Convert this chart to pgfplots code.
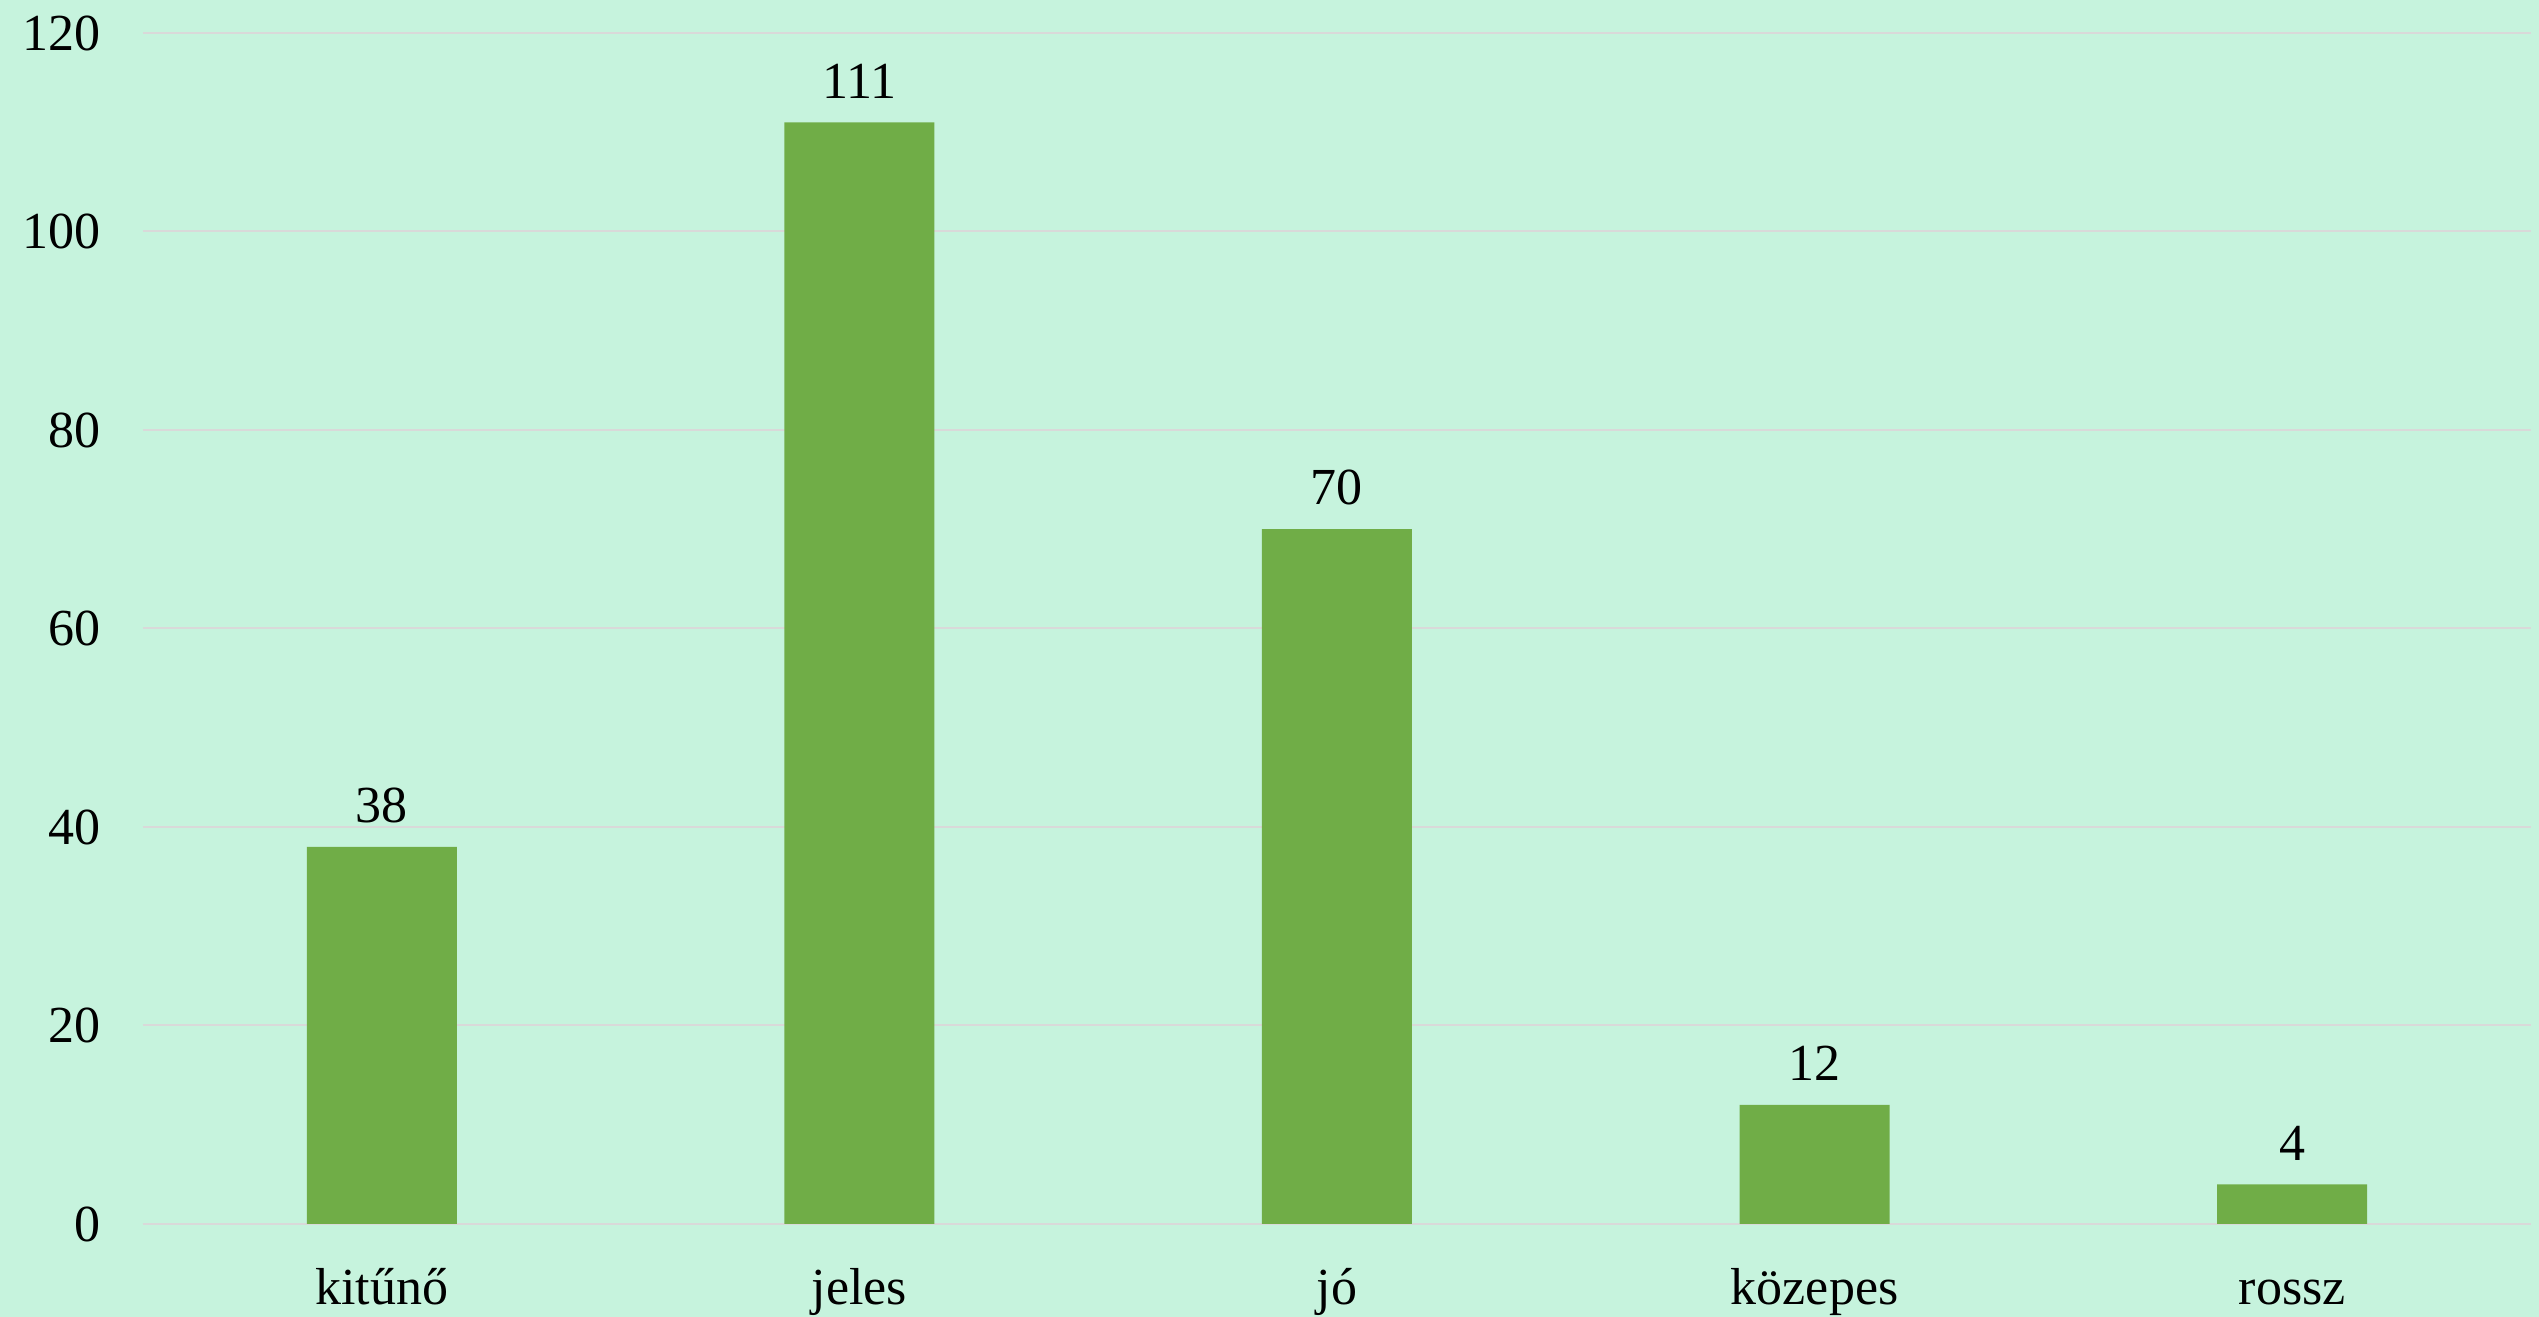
\documentclass[border=0pt]{standalone}
\usepackage{pgfplots}
\pgfplotsset{compat=1.18}
\usepackage{fontspec}
\setmainfont{Liberation Serif}
\definecolor{bg}{HTML}{C6F3DD}
\definecolor{bar}{HTML}{70AD47}
\definecolor{grid}{HTML}{D9D9D9}
\begin{document}
\begin{tikzpicture}
\fill[bg] (-35.75pt,-23.25pt) rectangle (599pt,306pt);
\begin{axis}[
  at={(0,0)}, anchor=south west,
  scale only axis,
  width=597pt, height=297.75pt,
  xmin=-0.5, xmax=4.5,
  ymin=0, ymax=120,
  ytick={0,20,...,120},
  xtick=data,
  xticklabels={kitűnő,jeles,jó,közepes,rossz},
  axis line style={draw=none},
  major tick length=0pt,
  ymajorgrids,
  major grid style={draw=grid, line width=0.5pt},
  /pgf/number format/assume math mode=true,
  tick label style={font=\fontsize{13}{15}\selectfont, text=black},
  yticklabel style={xshift=-7pt},
  xticklabel style={anchor=north, text height=0.72em, text depth=0.22em, yshift=-9.5pt},
  clip=false,
]
\draw[grid, line width=0.5pt] (axis cs:-0.5,0) -- (axis cs:4.5,0);
\addplot[ybar, bar width=37.5pt, fill=bar, draw=none,
  nodes near coords,
  every node near coord/.append style={font=\fontsize{13}{15}\selectfont, text=black, yshift=2.5pt}]
  coordinates {(0,38) (1,111) (2,70) (3,12) (4,4)};
\end{axis}
\pgfresetboundingbox
\path[use as bounding box] (-35.75pt,-23.25pt) rectangle (599pt,306pt);
\end{tikzpicture}
\end{document}
